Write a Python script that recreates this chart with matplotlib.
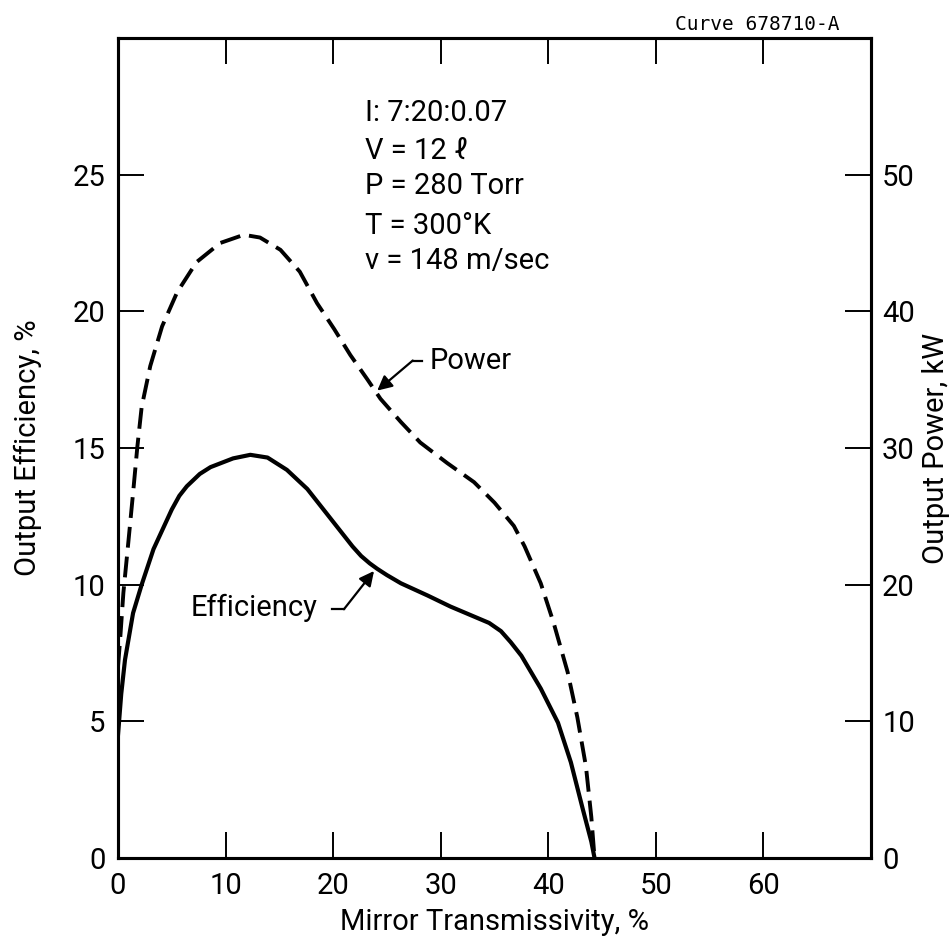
import matplotlib
matplotlib.use("Agg")
import matplotlib.pyplot as plt

plt.rcParams['font.family'] = ['Roboto', 'DejaVu Sans']
plt.rcParams['lines.scale_dashes'] = False

# Data
eff_x = [0, 0.3, 0.65, 1.4, 2.2, 3.3, 5.0, 5.7, 6.4, 7.6, 8.6, 10.7, 12.3, 13.9, 15.7,
         17.6, 19.4, 21.0, 21.8, 22.6, 23.4, 24.1, 25.0, 26.3, 28.8, 30.9, 33.0,
         34.5, 35.6, 36.5, 37.5, 39.3, 40.9, 42.1, 43.2, 44.0, 44.3]
eff_y = [4.5, 6.0, 7.25, 8.96, 10.0, 11.3, 12.75, 13.25, 13.6, 14.05, 14.3, 14.62, 14.75,
         14.65, 14.2, 13.5, 12.6, 11.8, 11.4, 11.05, 10.78, 10.58, 10.35, 10.05,
         9.6, 9.2, 8.85, 8.6, 8.3, 7.9, 7.4, 6.2, 4.95, 3.5, 1.8, 0.6, 0.0]

pow_x = [0, 0.2, 0.5, 0.96, 1.4, 1.8, 2.2, 3.0, 4.1, 5.5, 7.3, 9.5, 11.7, 13.2,
         15.1, 16.9, 18.5, 20.1, 21.6, 23.2, 24.4, 26.3, 28.1, 30.6, 33.1, 35.0,
         36.8, 37.8, 39.3, 40.5, 41.8, 42.7, 43.5, 44.0, 44.3]
pow_y = [14.0, 16.0, 19.4, 23.1, 26.7, 30.1, 33.0, 36.0, 38.9, 41.4, 43.6, 45.0,
         45.6, 45.4, 44.5, 42.9, 40.6, 38.7, 36.8, 35.0, 33.6, 31.9, 30.4, 28.9,
         27.5, 26.0, 24.3, 22.8, 20.1, 17.2, 13.6, 10.3, 6.7, 3.0, 0.0]

x_ticks = [0, 10, 20, 30, 40, 50, 60]
eff_ticks = [0, 5, 10, 15, 20, 25]
pow_ticks = [0, 10, 20, 30, 40, 50]
params = ["I: 7:20:0.07", "V = 12 \u2113", "P = 280 Torr", "T = 300\u00b0K", "v = 148 m/sec"]

fig = plt.figure(figsize=(9.5, 9.51), dpi=100)
ax = fig.add_axes([118/950, 1 - 858/951, (871 - 118)/950, (858 - 38)/951])
ax2 = ax.twinx()

ax.plot(eff_x, eff_y, color='black', lw=3.0, solid_joinstyle='round')
ax2.plot(pow_x, pow_y, color='black', lw=2.8, linestyle=(0, (15, 6.5)))

ax.set_xlim(0, 70)
ax.set_ylim(0, 30)
ax2.set_ylim(0, 60)
ax.set_xticks(x_ticks)
ax.set_yticks(eff_ticks)
ax2.set_yticks(pow_ticks)

fs = 21
ax.tick_params(axis='x', direction='in', length=19, width=1.4, top=True, labelsize=fs, pad=10)
ax.tick_params(axis='y', direction='in', length=19, width=1.4, labelsize=fs, pad=9)
ax2.tick_params(axis='y', direction='in', length=19, width=1.4, labelsize=fs, pad=8)
for a in (ax, ax2):
    for s in a.spines.values():
        s.set_linewidth(2.2)

ax.set_xlabel("Mirror Transmissivity, %", fontsize=fs, labelpad=6)
ax.set_ylabel("Output Efficiency, %", fontsize=fs, labelpad=22)
ax2.set_ylabel("Output Power, kW", fontsize=fs, labelpad=5)

base_y = [26.96, 25.57, 24.29, 22.82, 21.54]
for t, yy in zip(params, base_y):
    ax.text(23.0, yy, t, fontsize=fs, va='baseline', ha='left')

# Power annotation
ax.text(29.0, 18.2, "Power", fontsize=fs, va='center', ha='left')
ax.plot([28.3, 27.4], [18.2, 18.2], color='black', lw=1.6)
ax.annotate("", xy=(24.1, 17.1), xytext=(27.4, 18.2),
            arrowprops=dict(arrowstyle='-|>', color='black', lw=1.6,
                            mutation_scale=22, shrinkA=0, shrinkB=0))

# Efficiency annotation
ax.text(18.5, 9.16, "Efficiency", fontsize=fs, va='center', ha='right')
ax.plot([19.9, 21.0], [9.1, 9.1], color='black', lw=1.6)
ax.annotate("", xy=(23.8, 10.5), xytext=(21.0, 9.1),
            arrowprops=dict(arrowstyle='-|>', color='black', lw=1.6,
                            mutation_scale=22, shrinkA=0, shrinkB=0))

fig.text(757/950, 1 - 25/951, "Curve 678710-A", fontsize=14,
         family=['DejaVu Sans Mono'], ha='center', va='center')

fig.savefig("out.png", dpi=100)
